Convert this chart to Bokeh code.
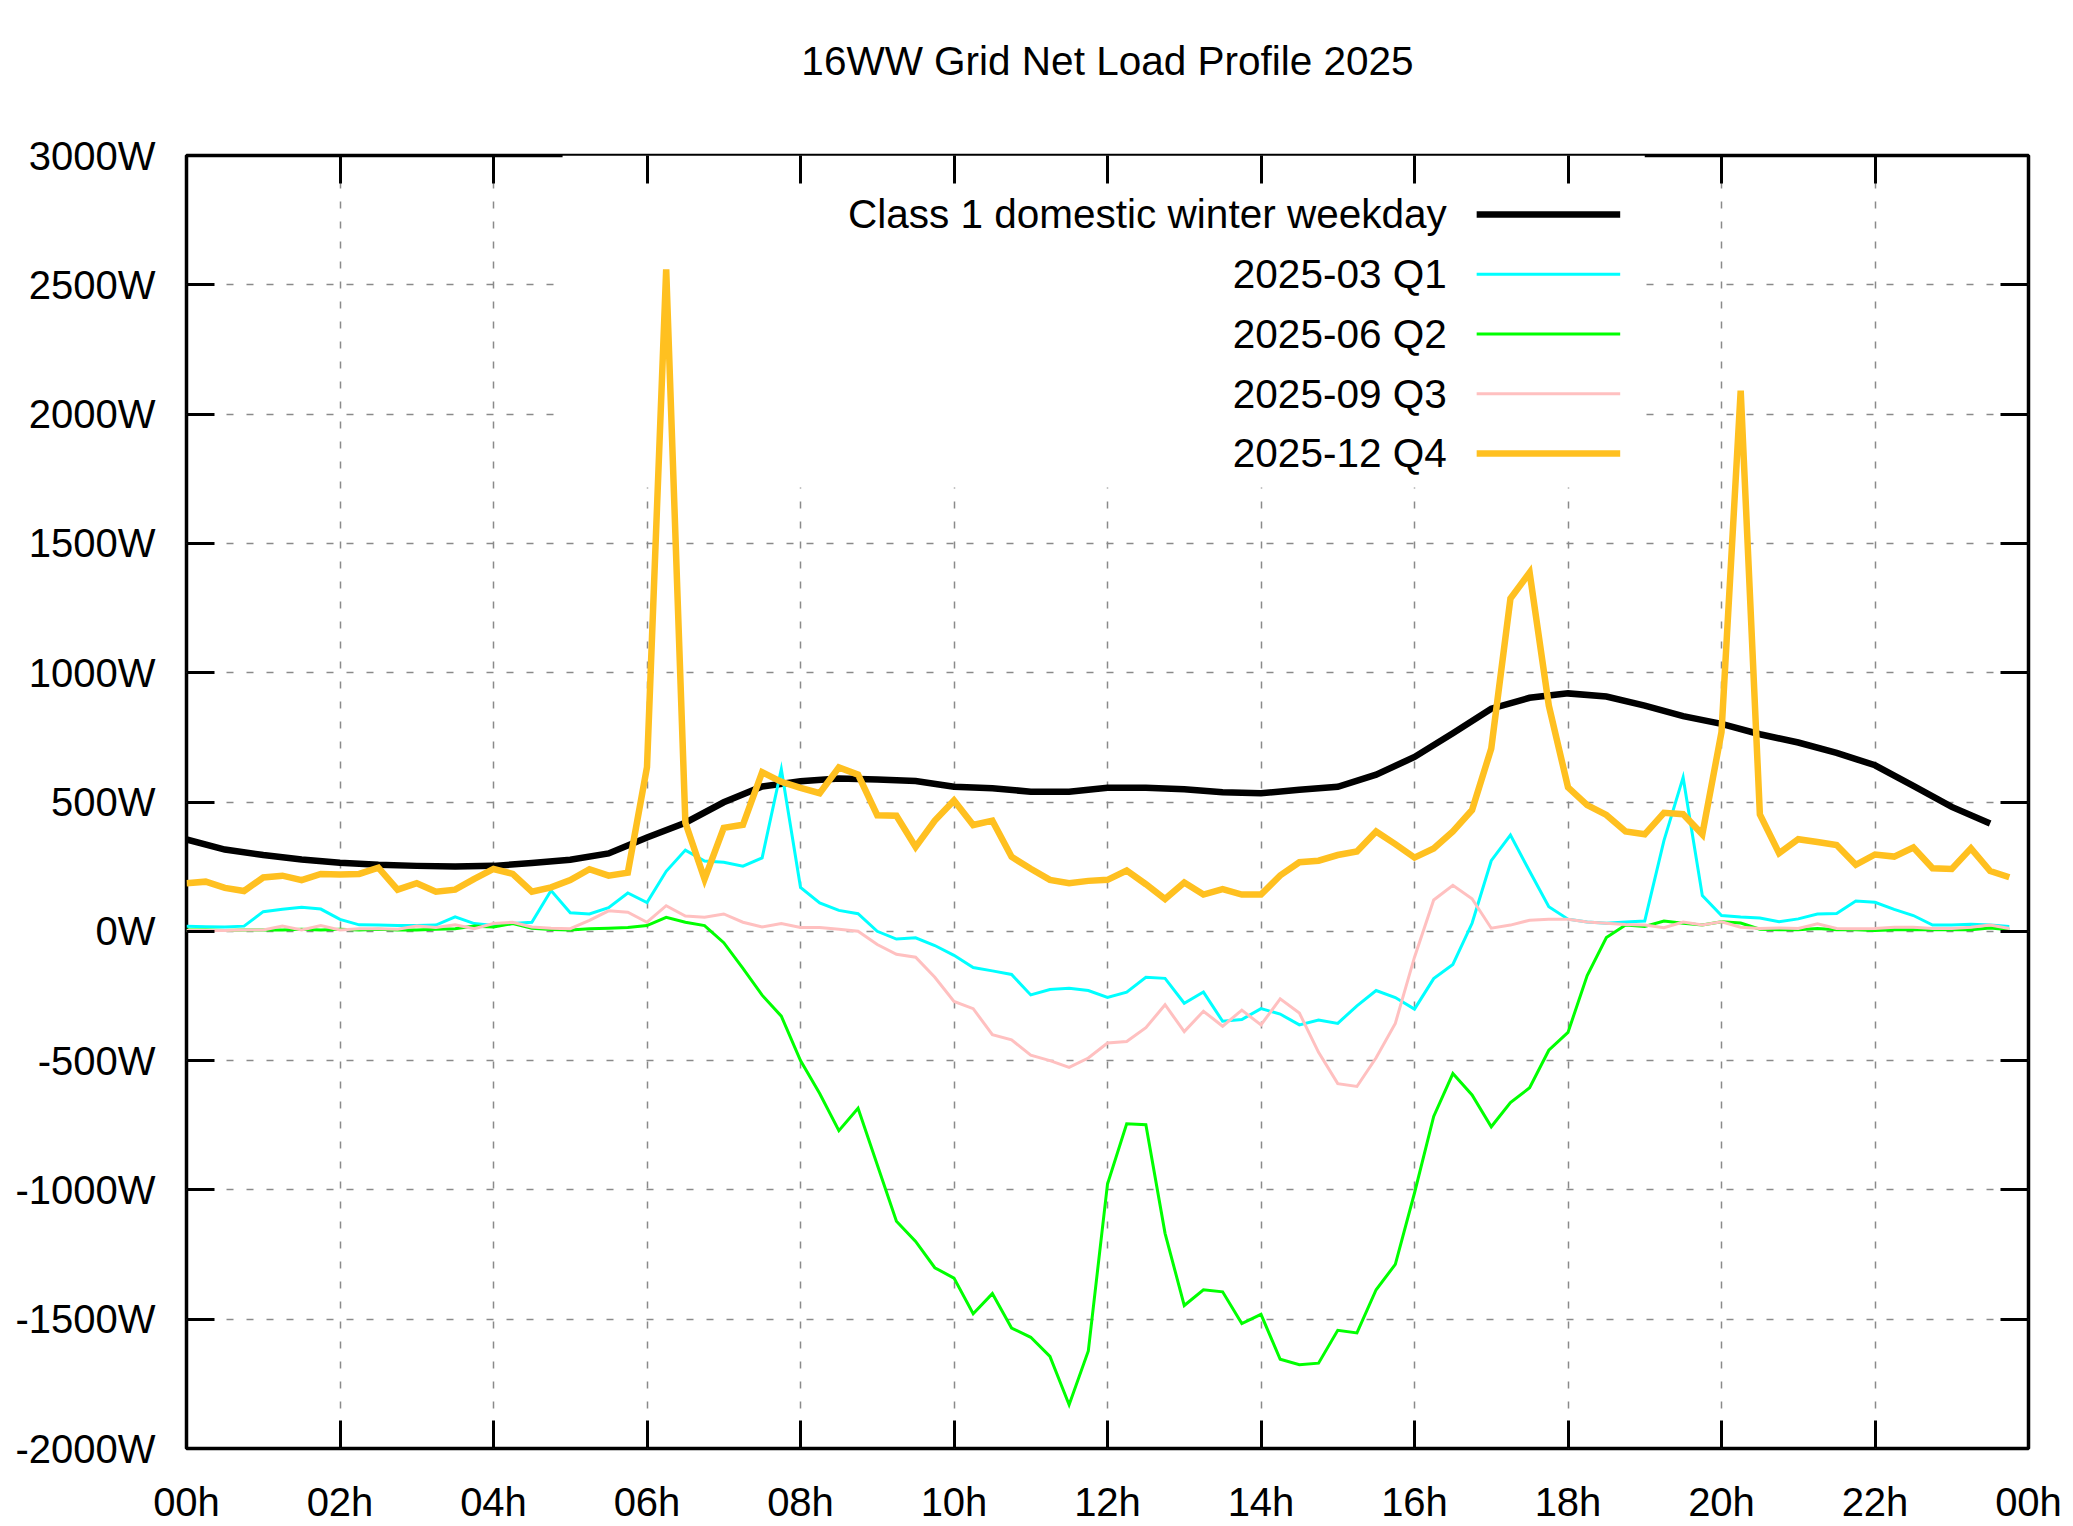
from bokeh.plotting import figure
from bokeh.models import (Range1d, FixedTicker, LinearAxis, BoxAnnotation, Label, Arrow)
from bokeh.embed import file_html
from bokeh.resources import INLINE

# ---------------- data ----------------
title_text = "16WW Grid Net Load Profile 2025"

series_names = ["Class 1 domestic winter weekday", "2025-03 Q1", "2025-06 Q2",
                "2025-09 Q3", "2025-12 Q4"]

x_tick_values = [0, 2, 4, 6, 8, 10, 12, 14, 16, 18, 20, 22, 24]
x_tick_labels = ["00h", "02h", "04h", "06h", "08h", "10h", "12h", "14h",
                 "16h", "18h", "20h", "22h", "00h"]
y_tick_values = [-2000, -1500, -1000, -500, 0, 500, 1000, 1500, 2000, 2500, 3000]
y_tick_labels = ["-2000W", "-1500W", "-1000W", "-500W", "0W", "500W", "1000W",
                 "1500W", "2000W", "2500W", "3000W"]

# time of day in hours (half-hourly profile / quarter-hourly measurements)
half_hours = [i * 0.5 for i in range(48)]
quarter_hours = [i * 0.25 for i in range(96)]

class1_winter_weekday = [
    355, 316, 295, 278, 265, 257, 253, 251, 253, 264, 277, 301,
    363, 420, 499, 560, 580, 591, 587, 581, 559, 553, 540, 540,
    555, 555, 549, 538, 534, 547, 559, 606, 674, 766, 861, 903,
    920, 908, 873, 832, 802, 762, 730, 690, 642, 562, 481, 417]

q1_2025_03 = [
    20, 18, 17, 20, 76, 85, 93, 86, 46, 25, 24, 22, 22, 24, 56, 30,
    22, 30, 35, 158, 72, 67, 91, 148, 111, 232, 314, 272, 267, 252, 284, 627,
    170, 110, 81, 68, 0, -30, -25, -55, -93, -140, -153, -167, -246, -225, -220, -229,
    -256, -235, -178, -182, -278, -235, -348, -341, -299, -320, -362, -343, -356, -288, -229, -256,
    -301, -183, -128, 31, 273, 372, 232, 95, 47, 36, 31, 36, 40, 351, 595, 138,
    61, 55, 51, 37, 48, 67, 69, 117, 112, 85, 61, 24, 24, 27, 24, 19]

q2_2025_06 = [
    5, 5, 3, 5, 5, 5, 8, 5, 8, 5, 8, 5, 5, 8, 10, 20,
    17, 30, 12, 7, 5, 10, 12, 15, 22, 54, 35, 22, -44, -143, -247, -328,
    -500, -627, -771, -684, -903, -1121, -1199, -1301, -1341, -1479, -1401, -1534, -1570, -1644, -1831, -1623,
    -977, -744, -748, -1168, -1447, -1386, -1394, -1517, -1481, -1655, -1676, -1670, -1543, -1553, -1386, -1288,
    -1012, -716, -550, -633, -756, -662, -605, -460, -391, -171, -24, 24, 19, 40, 31, 24,
    37, 32, 8, 6, 6, 11, 6, 6, 3, 6, 6, 6, 6, 6, 13, 6]

q3_2025_09 = [
    3, 3, 3, 5, 5, 20, 5, 22, 5, 10, 10, 8, 20, 15, 25, 10,
    30, 35, 17, 12, 10, 42, 79, 74, 35, 99, 59, 54, 67, 35, 17, 30,
    15, 15, 8, 0, -51, -89, -100, -178, -271, -299, -400, -420, -479, -500, -526, -490,
    -432, -426, -373, -284, -388, -309, -367, -305, -362, -261, -316, -468, -589, -600, -489, -356,
    -100, 121, 178, 126, 12, 24, 43, 47, 47, 36, 31, 26, 24, 14, 36, 24,
    37, 16, 11, 13, 11, 29, 11, 10, 11, 16, 16, 11, 11, 16, 24, 11]

q4_2025_12 = [
    186, 192, 168, 156, 208, 215, 198, 222, 220, 222, 246, 161, 186, 153, 161, 203,
    241, 222, 153, 170, 198, 240, 215, 227, 635, 2560, 420, 202, 400, 412, 615, 578,
    555, 534, 634, 606, 449, 447, 326, 428, 506, 411, 428, 288, 242, 199, 186, 195,
    199, 235, 182, 125, 189, 142, 163, 142, 142, 216, 267, 273, 295, 309, 386, 337,
    285, 320, 386, 469, 707, 1287, 1387, 873, 557, 488, 450, 386, 375, 458, 453, 375,
    770, 2091, 452, 302, 356, 345, 334, 257, 297, 289, 324, 244, 241, 321, 233, 209]

series_colors = ["#000000", "#00FFFF", "#00FF00", "#FFC0C0", "#FFC020"]
series_widths = [6.5, 3, 3, 3, 6.5]

# ---------------- figure ----------------
FONT = "Liberation Sans"

p = figure(width=2073, height=1526,
           x_range=Range1d(0, 24), y_range=Range1d(-2000, 3000),
           output_backend="svg", toolbar_location=None,
           min_border_left=186, min_border_right=45,
           min_border_top=155, min_border_bottom=78)

p.background_fill_color = "white"
p.border_fill_color = "white"
p.outline_line_color = "black"
p.outline_line_width = 3.5

p.title.text = title_text
p.title.align = "center"
p.title.text_font = FONT
p.title.text_font_size = "40.5px"
p.title.text_font_style = "normal"
p.title.text_color = "black"
p.title.standoff = 0

p.add_layout(LinearAxis(), "right")
p.add_layout(LinearAxis(), "above")

x_overrides = {v: lab for v, lab in zip(x_tick_values, x_tick_labels)}
y_overrides = {v: lab for v, lab in zip(y_tick_values, y_tick_labels)}

for ax in p.xaxis:
    ax.ticker = FixedTicker(ticks=x_tick_values)
    ax.major_label_overrides = x_overrides
for ax in p.yaxis:
    ax.ticker = FixedTicker(ticks=y_tick_values)
    ax.major_label_overrides = y_overrides

for ax in p.axis:
    ax.axis_line_color = None
    ax.major_tick_in = 28
    ax.major_tick_out = 0
    ax.major_tick_line_width = 3
    ax.major_tick_line_color = "black"
    ax.minor_tick_line_color = None
    ax.major_label_text_font = FONT
    ax.major_label_text_font_size = "40px"
    ax.major_label_text_color = "black"

p.below[0].major_label_standoff = 31
p.left[0].major_label_standoff = 31
for ax in (p.right[0], p.above[0]):
    ax.major_label_text_font_size = "0px"
    ax.major_label_text_color = None
    ax.major_label_standoff = 0

# blank spacer between the title and the top of the frame
top_axis = p.above[0]
top_axis.axis_label = " "
top_axis.axis_label_text_font_size = "2px"
top_axis.axis_label_text_color = None
top_axis.axis_label_standoff = 67

p.xgrid.ticker = FixedTicker(ticks=x_tick_values)
p.ygrid.ticker = FixedTicker(ticks=y_tick_values)
for g in (p.xgrid[0], p.ygrid[0]):
    g.grid_line_color = "#8a8a8a"
    g.grid_line_width = 1.5
    g.grid_line_dash = "7 13"

# opaque key area (hides the grid behind the key)
key_box = BoxAnnotation(left=4.9, right=19.0, bottom=1716, top=3000,
                        fill_color="white", fill_alpha=1.0, line_color=None,
                        level="underlay")
p.add_layout(key_box)

# ---------------- series ----------------
series_x = [half_hours, quarter_hours, quarter_hours, quarter_hours, quarter_hours]
series_y = [class1_winter_weekday, q1_2025_03, q2_2025_06, q3_2025_09, q4_2025_12]

for xs, ys, c, w in zip(series_x, series_y, series_colors, series_widths):
    p.line(xs, ys, line_color=c, line_width=w, line_join="miter")

# ---------------- key (label left, sample right) ----------------
key_text_x = 16.42
key_line_x0 = 16.81
key_line_x1 = 18.68
key_row_y0 = 2772
key_row_step = 231

for i, (name, c, w) in enumerate(zip(series_names, series_colors, series_widths)):
    yk = key_row_y0 - i * key_row_step
    p.add_layout(Label(x=key_text_x, y=yk, text=name, text_align="right",
                       text_baseline="middle", text_font=FONT,
                       text_font_size="40.5px", text_color="black"))
    p.add_layout(Arrow(x_start=key_line_x0, y_start=yk, x_end=key_line_x1, y_end=yk,
                       start=None, end=None, line_color=c, line_width=w))

open("out.html", "w").write(file_html(p, INLINE))
